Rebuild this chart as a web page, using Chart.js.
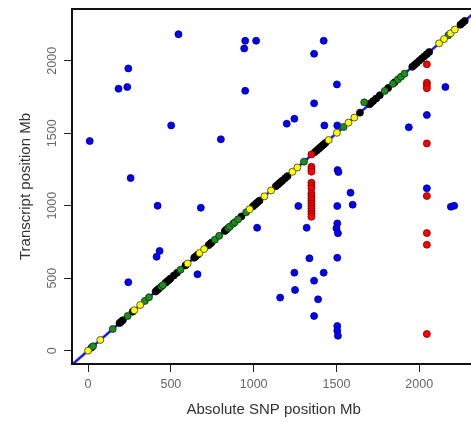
<!DOCTYPE html>
<html>
<head>
<meta charset="utf-8">
<script src="https://cdn.jsdelivr.net/npm/chart.js@4.4.1/dist/chart.umd.min.js"></script>
<style>
  html, body { margin: 0; padding: 0; background: #fff; overflow: hidden; }
</style>
</head>
<body>
<canvas id="snpChart" width="480" height="422"></canvas>
<script>
// tick positions (Mb)
const xTicks = [0, 500, 1000, 1500, 2000];
const yTicks = [0, 500, 1000, 1500, 2000];

// y = x reference line
const diagLine = [-120, 2400];

// trans eQTL (blue)
const blueX = [546, 243, 184, 237, 10, 502, 802, 257, 420, 681, 949, 943, 1015, 1423, 1365, 949, 1503, 1365, 1200, 1246,
  1427, 1505, 2158, 1937, 2046, 2046, 1507, 1512, 1585, 1270, 1505, 1598, 2191, 2211, 1021, 1320, 1505, 1500, 1509, 1337,
  1505, 1246, 1423, 1365, 1250, 1160, 1389, 1365, 1505, 1505, 1509, 432, 414, 243, 661];
const blueY = [2183, 1947, 1807, 1819, 1446, 1554, 1458, 1191, 1000, 986, 2138, 2085, 2138, 2138, 2048, 1793, 1837, 1706, 1566, 1600,
  1554, 1554, 1819, 1541, 1626, 1120, 1246, 1232, 1090, 998, 998, 1007, 993, 1000, 848, 848, 878, 844, 810, 637,
  641, 538, 538, 483, 419, 366, 354, 239, 170, 138, 103, 688, 648, 472, 527];

// hotspot columns (red)
const redX = [1349, 1349, 1349, 1349, 1349, 1349, 1349, 1349, 1349, 1349, 1349, 1349, 1349, 1349, 1349, 1349, 1349,
  2046, 2046, 2046, 2046, 2046, 2046, 2046, 2046, 2046];
const redY = [1354, 1269, 1252, 1235, 1159, 1140, 1120, 1085, 1068, 1050, 1033, 1015, 998, 980, 962, 944, 924,
  1975, 1848, 1830, 1810, 1430, 1067, 811, 731, 115];

// cis eQTL along the diagonal
const blackX = [190, 199, 210, 269, 408, 418, 428, 468, 478, 488, 498, 518, 537, 588, 641, 650, 663, 727, 737, 746,
  826, 836, 926, 995, 1005, 1015, 1025, 1035, 1134, 1145, 1155, 1164, 1174, 1190, 1204, 1370, 1383, 1393, 1403, 1413,
  1423, 1433, 1642, 1700, 1708, 1722, 1740, 1762, 1812, 1851, 1958, 1971, 1985, 2000, 2015, 2030, 2045, 2060, 2249, 2262, 2275];
const blackY = [190, 199, 210, 269, 408, 418, 428, 468, 478, 488, 498, 518, 537, 588, 641, 650, 663, 727, 737, 746,
  826, 836, 926, 995, 1005, 1015, 1025, 1035, 1134, 1145, 1155, 1164, 1174, 1190, 1204, 1370, 1383, 1393, 1403, 1413,
  1423, 1433, 1642, 1700, 1708, 1722, 1740, 1762, 1812, 1851, 1958, 1971, 1985, 2000, 2015, 2030, 2045, 2060, 2249, 2262, 2275];

const greenX = [20, 30, 149, 239, 343, 368, 442, 452, 558, 766, 792, 846, 856, 876, 886, 906, 955, 1304, 1543, 1668,
  1792, 1841, 1871, 1890, 1911, 2176];
const greenY = [20, 30, 149, 239, 343, 368, 442, 452, 558, 766, 792, 846, 856, 876, 886, 906, 955, 1304, 1543, 1713,
  1792, 1841, 1871, 1890, 1911, 2176];

const yellowX = [0, 74, 279, 315, 601, 673, 701, 976, 1065, 1105, 1234, 1264, 1453, 1503, 1573, 1608, 2120, 2150, 2189, 2215];
const yellowY = [0, 74, 279, 315, 601, 673, 701, 976, 1065, 1105, 1234, 1264, 1453, 1503, 1573, 1608, 2120, 2150, 2189, 2215];

function pts(xs, ys) {
  return xs.map((x, i) => ({ x: x, y: ys[i] }));
}

function dots(data, fill, edge, order) {
  return {
    type: 'scatter',
    data: data,
    backgroundColor: fill,
    borderColor: edge,
    borderWidth: 0.8,
    pointRadius: 3.5,
    order: order
  };
}

// box round the plot region, like R's bty="o"
const boxPlugin = {
  id: 'box',
  afterDatasetsDraw(chart) {
    const { ctx, chartArea: a } = chart;
    ctx.save();
    ctx.strokeStyle = '#111';
    ctx.lineWidth = 2;
    ctx.strokeRect(a.left, a.top, a.right - a.left, a.bottom - a.top);
    ctx.restore();
  }
};

Chart.defaults.font.family = "'Liberation Sans', Arial, sans-serif";

const tickGrid = { drawOnChartArea: false, drawTicks: true, tickLength: 8, color: '#222', lineWidth: 1 };
const plainLabel = v => String(v);

new Chart(document.getElementById('snpChart'), {
  type: 'scatter',
  data: {
    datasets: [
      {
        type: 'line',
        data: pts(diagLine, diagLine),
        borderColor: '#1a1aff',
        borderWidth: 2.5,
        pointRadius: 0,
        order: 10
      },
      dots(pts(blueX, blueY), '#0000ff', '#00007a', 5),
      dots(pts(blackX, blackY), '#000000', '#000000', 4),
      dots(pts(greenX, greenY), '#1e8c1e', '#0a300a', 3),
      dots(pts(yellowX, yellowY), '#ffff00', '#333333', 2),
      dots(pts(redX, redY), '#ff0000', '#7a0000', 1)
    ]
  },
  options: {
    responsive: false,
    animation: false,
    layout: { padding: { top: 9, right: 0, bottom: 0, left: 0 } },
    plugins: {
      legend: { display: false },
      tooltip: { enabled: false }
    },
    scales: {
      x: {
        type: 'linear',
        min: -97,
        max: 2338,
        afterBuildTicks: s => { s.ticks = xTicks.map(v => ({ value: v })); },
        afterFit: s => { s.height = 58; },
        grid: tickGrid,
        border: { display: false },
        ticks: { color: '#666', font: { size: 12.5 }, padding: 5, maxRotation: 0, callback: plainLabel },
        title: { display: true, text: 'Absolute SNP position Mb', color: '#333', font: { size: 15 }, padding: { top: 0, bottom: 3 } }
      },
      y: {
        type: 'linear',
        min: -92,
        max: 2357,
        afterBuildTicks: s => { s.ticks = yTicks.map(v => ({ value: v })); },
        afterFit: s => { s.width = 72; },
        grid: tickGrid,
        border: { display: false },
        ticks: { color: '#666', font: { size: 12.5 }, padding: -2, minRotation: 90, maxRotation: 90, crossAlign: 'center', callback: plainLabel },
        title: { display: true, text: 'Transcript position Mb', color: '#333', font: { size: 15 }, padding: { top: 17, bottom: 0 } }
      }
    }
  },
  plugins: [boxPlugin]
});
</script>
</body>
</html>
